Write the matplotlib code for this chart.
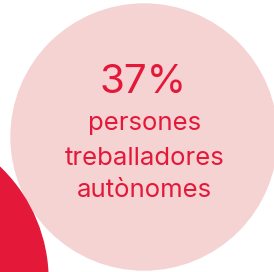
import matplotlib
matplotlib.use("Agg")
import matplotlib.pyplot as plt
from matplotlib.patches import Circle

percent_label = "37%"
caption_lines = ["persones", "treballadores", "autònomes"]

W, H = 274, 272
fig = plt.figure(figsize=(W / 100, H / 100), dpi=100)
ax = fig.add_axes([0, 0, 1, 1])
ax.set_xlim(0, W)
ax.set_ylim(H, 0)
ax.axis("off")
fig.patch.set_facecolor("white")

pink = "#F5D3D3"
red = "#E4193A"

ax.add_patch(Circle((144, 137), 133, color=pink, zorder=1))
ax.add_patch(Circle((-108, 280), 156, color=red, zorder=2))

ax.text(143.5, 93, percent_label, ha="center", va="baseline", fontsize=29,
        color=red, family="Inter", zorder=3)
ys = [130, 165, 197]
for t, y in zip(caption_lines, ys):
    ax.text(144.5, y, t, ha="center", va="baseline", fontsize=18.5,
            color=red, family="Inter", zorder=3)

fig.savefig("out.png", dpi=100)
